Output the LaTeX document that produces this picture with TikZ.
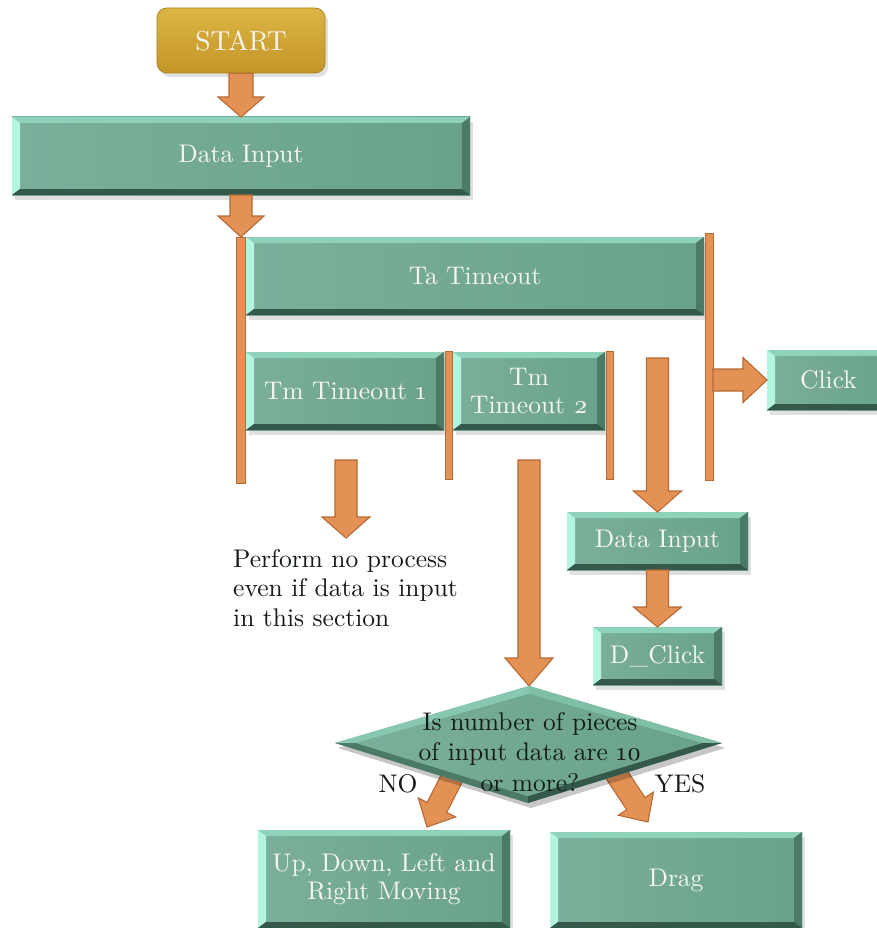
\documentclass[tikz,border=0pt]{standalone}
\usepackage{fontspec}
\setmainfont{lmroman10-regular.otf}
\usetikzlibrary{calc,shadows}
\definecolor{boxL}{HTML}{7BAF9B}
\definecolor{boxR}{HTML}{69A289}
\definecolor{bevTop}{HTML}{8ED2B9}
\definecolor{bevLeft}{HTML}{B2F6E1}
\definecolor{bevRight}{HTML}{4B7A66}
\definecolor{bevBot}{HTML}{34584A}
\definecolor{arrFill}{HTML}{E39155}
\definecolor{arrDraw}{HTML}{B66A35}
\definecolor{goldT}{HTML}{DDB445}
\definecolor{goldB}{HTML}{C39628}
\definecolor{goldE}{HTML}{A8841F}
\definecolor{txtW}{HTML}{F6F6EF}
\definecolor{txtD}{HTML}{141A17}
\newcommand\boxfont{\fontsize{25.5}{29.5}\selectfont}
\newcommand\startfont{\fontsize{27.5}{30}\selectfont}
\tikzset{
  bev/.style={inner sep=0pt, outer sep=0pt, left color=boxL, right color=boxR,
    text=txtW, align=center, font=\boxfont,
    drop shadow={opacity=0.25, shadow xshift=3pt, shadow yshift=-5pt},
    path picture={
      \fill[bevTop] (path picture bounding box.north west) -- (path picture bounding box.north east)
        -- ([shift={(-8pt,-6pt)}]path picture bounding box.north east)
        -- ([shift={(8pt,-6pt)}]path picture bounding box.north west) -- cycle;
      \fill[bevLeft] (path picture bounding box.north west)
        -- ([shift={(8pt,-6pt)}]path picture bounding box.north west)
        -- ([shift={(8pt,6pt)}]path picture bounding box.south west)
        -- (path picture bounding box.south west) -- cycle;
      \fill[bevRight] (path picture bounding box.north east)
        -- ([shift={(-8pt,-6pt)}]path picture bounding box.north east)
        -- ([shift={(-8pt,6pt)}]path picture bounding box.south east)
        -- (path picture bounding box.south east) -- cycle;
      \fill[bevBot] (path picture bounding box.south west)
        -- ([shift={(8pt,6pt)}]path picture bounding box.south west)
        -- ([shift={(-8pt,6pt)}]path picture bounding box.south east)
        -- (path picture bounding box.south east) -- cycle;
    }},
  startbox/.style={inner sep=0pt, rounded corners=10pt, top color=goldT, bottom color=goldB,
    draw=goldE, line width=0.8pt, text=txtW, font=\startfont,
    drop shadow={opacity=0.25, shadow xshift=3pt, shadow yshift=-4pt}},
  arrstyle/.style={fill=arrFill, draw=arrDraw, line width=1.1pt, line join=miter},
  txt/.style={inner sep=0pt, text=txtD, font=\boxfont},
}
\newcommand\bbox[6]{\node[bev, minimum width={#4pt-#2pt}, minimum height={#5pt-#3pt}] (#1) at ({(#2+#4)/2},{(#3+#5)/2}) {#6};}
% block arrow: from, to, shaft half width, head half width, head length
\newcommand\barrow[5]{%
  \coordinate (bh) at ($(#2)!#5!(#1)$);
  \filldraw[arrstyle] ($(#1)!#3!90:(#2)$) -- ($(bh)!#3!-90:(#1)$) -- ($(bh)!#4!-90:(#1)$)
    -- (#2) -- ($(bh)!#4!90:(#1)$) -- ($(bh)!#3!90:(#1)$) -- ($(#1)!#3!-90:(#2)$) -- cycle;}
\begin{document}
\begin{tikzpicture}[x=1pt,y=-1pt]
\useasboundingbox (0,0) rectangle (877,928);
\clip (0,0) rectangle (877,928);
\fill[white] (0,0) rectangle (877,928);

% START
\node[startbox, minimum width=168pt, minimum height=65pt] (start) at (241,40.5) {START};

% boxes
\bbox{din1}{12}{117}{470}{195}{Data Input}
\bbox{ta}{246}{237}{704}{315}{Ta Timeout}
\bbox{tm1}{246}{352}{444}{430}{Tm Timeout \oldstylenums{1}}
\bbox{tm2}{453}{352}{605}{430}{Tm\\[-2pt]Timeout \oldstylenums{2}}
\bbox{click}{767}{350}{890}{410}{Click}
\bbox{din2}{567}{512}{748}{570}{Data Input}
\bbox{dclick}{593}{627}{722}{685}{D\_Click}
\bbox{udlr}{258}{830}{510}{928}{Up, Down, Left and\\[-2pt]Right Moving}
\bbox{drag}{550}{832}{802}{928}{Drag}

% timing bars
\filldraw[arrstyle, line width=0.9pt] (236.5,237) rectangle (245.5,483);
\filldraw[arrstyle, line width=0.9pt] (705,233) rectangle (713,480);
\filldraw[arrstyle, line width=0.9pt] (445,351) rectangle (452,479);
\filldraw[arrstyle, line width=0.9pt] (606,351) rectangle (613,479);

% arrow end points
\coordinate (barTop) at (241,237);
\coordinate (tm1S) at (346,460);
\coordinate (perfTop) at (346,538);
\coordinate (tm2S) at (529,460);
\coordinate (dT) at (529,686);
\coordinate (dinS) at (657.5,358);
\coordinate (clickS) at (713,380);
\coordinate (noS) at (458,766);
\coordinate (noT) at (427,827);
\coordinate (yesS) at (611,766);
\coordinate (yesT) at (648,822);

% arrows
\barrow{start.south}{din1.north}{12pt}{23pt}{20pt}
\barrow{din1.south}{barTop}{11pt}{23pt}{21pt}
\barrow{tm1S}{perfTop}{11pt}{24pt}{21pt}
\barrow{tm2S}{dT}{11pt}{24pt}{28pt}
\barrow{dinS}{din2.north}{11pt}{24pt}{21pt}
\barrow{din2.south}{dclick.north}{11pt}{24pt}{20pt}
\barrow{clickS}{click.west}{11pt}{22.5pt}{24pt}
\barrow{noS}{noT}{11pt}{21pt}{22pt}
\barrow{yesS}{yesT}{11pt}{21pt}{22pt}

% decision diamond
\coordinate (dR) at (722,743);
\coordinate (dB) at (528,803);
\coordinate (dL) at (335,743);
\coordinate (dTi) at (529,694);
\coordinate (dRi) at (702,743);
\coordinate (dBi) at (528,796);
\coordinate (dLi) at (356,743);
\fill[black, opacity=0.22] ([shift={(3pt,-5pt)}]dT) -- ([shift={(3pt,-5pt)}]dR) -- ([shift={(3pt,-5pt)}]dB) -- ([shift={(3pt,-5pt)}]dL) -- cycle;
\shade[left color=boxL, right color=boxR] (dT) -- (dR) -- (dB) -- (dL) -- cycle;
\fill[bevTop!70!boxL] (dT) -- (dL) -- (dLi) -- (dTi) -- cycle;
\fill[bevTop!60!boxR] (dT) -- (dR) -- (dRi) -- (dTi) -- cycle;
\fill[bevRight] (dL) -- (dB) -- (dBi) -- (dLi) -- cycle;
\fill[bevBot] (dR) -- (dB) -- (dBi) -- (dRi) -- cycle;
\shade[left color=boxL, right color=boxR] (dTi) -- (dRi) -- (dBi) -- (dLi) -- cycle;

\node[txt, align=center] (dec) at (530,752) {Is number of pieces\\[1pt]of input data are \oldstylenums{10}\\[1pt]or more?};
\node[txt] (no) at (398,784) {NO};
\node[txt] (yes) at (680,784) {YES};
\node[txt, align=left, anchor=west] (perf) at (233,588) {Perform no process\\even if data is input\\in this section};
\end{tikzpicture}
\end{document}
